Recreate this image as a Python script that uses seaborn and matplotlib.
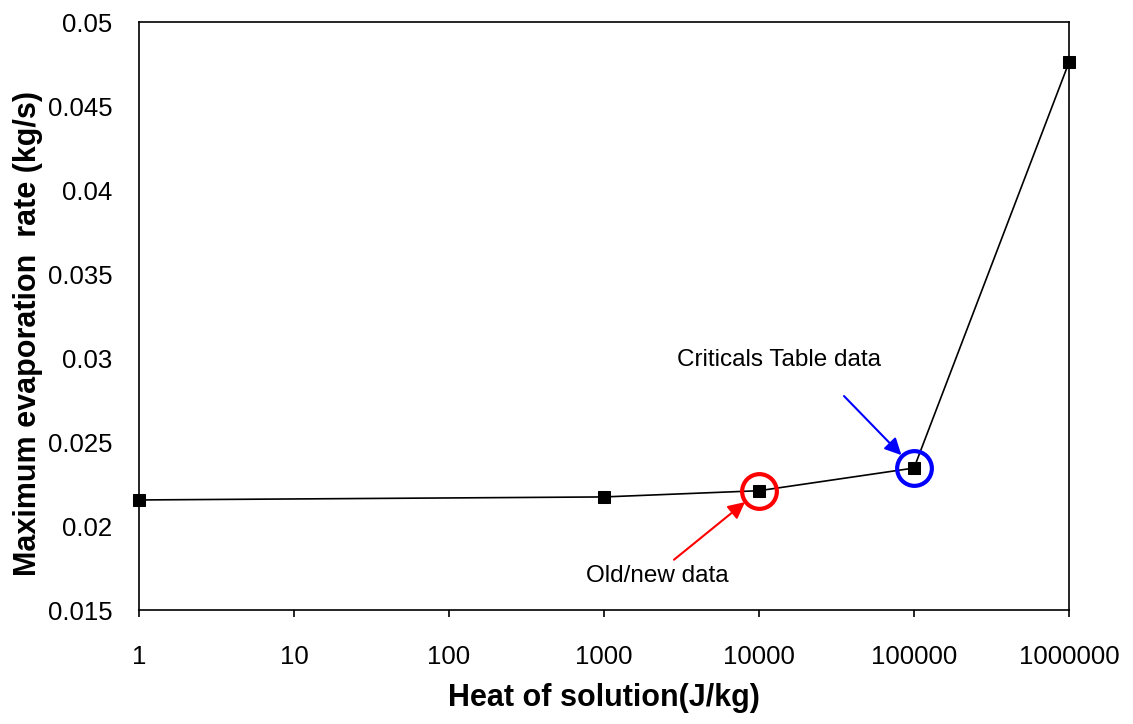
import matplotlib
matplotlib.use("Agg")
import matplotlib.pyplot as plt
import seaborn as sns
import pandas as pd

heat = [1, 1000, 10000, 100000, 1000000]
rate = [0.02155, 0.02173, 0.0221, 0.02345, 0.0476]
xticks = [1, 10, 100, 1000, 10000, 100000, 1000000]
yticks = [0.015, 0.02, 0.025, 0.03, 0.035, 0.04, 0.045, 0.05]

sns.set_theme(style="white")
plt.rcParams['font.family'] = ['Liberation Sans', 'DejaVu Sans']
plt.rcParams['text.color'] = 'black'
plt.rcParams['axes.labelcolor'] = 'black'
plt.rcParams['xtick.color'] = 'black'
plt.rcParams['ytick.color'] = 'black'

df = pd.DataFrame({"heat": heat, "rate": rate})

fig = plt.figure(figsize=(11.33, 7.24), dpi=100)
ax = fig.add_axes([139/1133, 1-610/724, (1069-139)/1133, (610-22)/724])

sns.lineplot(data=df, x="heat", y="rate", ax=ax, color="black", linewidth=1.2,
             marker="s", markersize=8, markeredgecolor="black", markerfacecolor="black")
for ln in ax.lines:
    ln.set_clip_on(False)
ax.set_xscale("log")
ax.set_xlim(1, 1000000)
ax.set_ylim(0.015, 0.05)
ax.set_xticks(xticks)
ax.set_xticklabels([str(v) for v in xticks])
ax.minorticks_off()
ax.set_yticks(yticks)
ax.set_yticklabels([f"{v:g}" for v in yticks])
ax.tick_params(axis="x", length=5, width=1.2, direction="out", labelsize=18.5, pad=20, bottom=True)
ax.tick_params(axis="y", length=0, labelsize=18.5, pad=19)
for s in ax.spines.values():
    s.set_color("black")
    s.set_linewidth(1.2)

ax.set_xlabel("Heat of solution(J/kg)", fontsize=22, fontweight="bold", labelpad=10)
ax.set_ylabel("Maximum evaporation  rate (kg/s)", fontsize=22, fontweight="bold")
ax.yaxis.set_label_coords(-0.103, 0.47)

# highlight circles
ax.plot([heat[2]], [rate[2]], marker="o", markersize=25, markerfacecolor="none",
        markeredgecolor="red", markeredgewidth=3, linestyle="none", clip_on=False)
ax.plot([heat[3]], [rate[3]], marker="o", markersize=25, markerfacecolor="none",
        markeredgecolor="blue", markeredgewidth=3, linestyle="none", clip_on=False)

# arrows
ax.annotate("", xy=(heat[2], rate[2]), xytext=(-85, -69), textcoords="offset pixels",
            arrowprops=dict(arrowstyle="-|>", color="red", lw=1.5, shrinkA=0, shrinkB=13,
                            mutation_scale=25))
ax.annotate("Old/new data", xy=(heat[2], rate[2]), xytext=(-102, -85), textcoords="offset pixels",
            ha="center", va="center", fontsize=17.5)
ax.annotate("", xy=(heat[3], rate[3]), xytext=(-70, 72), textcoords="offset pixels",
            arrowprops=dict(arrowstyle="-|>", color="blue", lw=1.5, shrinkA=0, shrinkB=13,
                            mutation_scale=25))
ax.annotate("Criticals Table data", xy=(heat[3], rate[3]), xytext=(-135, 108), textcoords="offset pixels",
            ha="center", va="center", fontsize=17.5)

fig.savefig("out.png", dpi=100)
